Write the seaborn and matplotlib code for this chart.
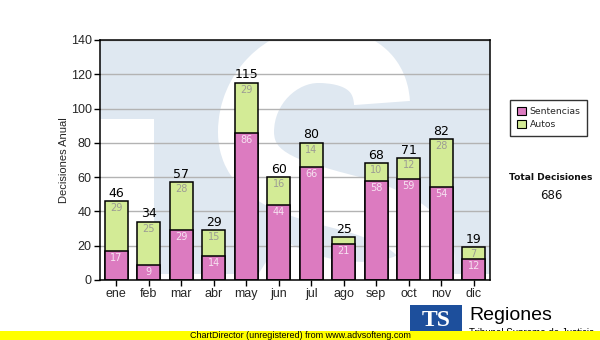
import numpy as np
import pandas as pd
import matplotlib
matplotlib.use("Agg")
import matplotlib.pyplot as plt
import seaborn as sns
from matplotlib.path import Path
from matplotlib.patches import PathPatch, Rectangle, Patch

# Monthly decisions
months = ["ene", "feb", "mar", "abr", "may", "jun", "jul", "ago", "sep", "oct", "nov", "dic"]
sentencias = [17, 9, 29, 14, 86, 44, 66, 21, 58, 59, 54, 12]
autos = [29, 25, 28, 15, 29, 16, 14, 4, 10, 12, 28, 7]
y_ticks = [0, 20, 40, 60, 80, 100, 120, 140]

totals = [s + a for s, a in zip(sentencias, autos)]
grand_total = sum(totals)

df = pd.DataFrame({"mes": months, "Sentencias": sentencias, "Autos": autos, "Total": totals})

sns.set_theme(style="white")
plt.rcParams["font.family"] = ["DejaVu Sans"]

W, H = 600, 340
fig = plt.figure(figsize=(6.0, 3.4), dpi=100)
fig.patch.set_facecolor("white")

# plot area in pixels: x 100..490, y 40..280
L, R, T, B = 100, 490, 40, 280
ax = fig.add_axes([L / W, 1 - B / H, (R - L) / W, (B - T) / H])
bg_blue = "#dfe8f1"
ax.set_facecolor(bg_blue)


def px(x, y):
    """pixel position (y downward) -> axes fraction"""
    return ((x - L) / (R - L), (B - y) / (B - T))


# watermark logo: white spaces around the "T" and a white "S" stroke
ax.add_patch(Rectangle(px(100, 280), (154 - 100) / (R - L), (280 - 119) / (B - T),
                       transform=ax.transAxes, facecolor="white", edgecolor="none", zorder=0.1))
ax.add_patch(Rectangle(px(100, 280), 1, 6 / (B - T),
                       transform=ax.transAxes, facecolor="white", edgecolor="none", zorder=0.1))
verts = [px(382, 103),
         px(380, 68), px(352, 55), px(318, 55),
         px(282, 55), px(246, 88), px(246, 132),
         px(246, 180), px(300, 190), px(352, 204),
         px(402, 218), px(430, 238), px(426, 262),
         px(420, 294), px(330, 304), px(266, 262)]
codes = [Path.MOVETO] + [Path.CURVE4] * 15
s_path = Path(verts, codes)
ax.add_patch(PathPatch(s_path, transform=ax.transAxes, facecolor="none", edgecolor="white",
                       lw=56 * 72 / 100, capstyle="butt", joinstyle="round", zorder=0.2))

ax.set_axisbelow(True)
ax.yaxis.grid(True, color="#b3b3b3", lw=1)
ax.xaxis.grid(False)

pink = "#dc7bc0"
green = "#d3eb96"
sns.barplot(data=df, x="mes", y="Total", color=green, saturation=1, width=0.7,
            edgecolor="black", linewidth=1.1, ax=ax, zorder=2)
sns.barplot(data=df, x="mes", y="Sentencias", color=pink, saturation=1, width=0.7,
            edgecolor="black", linewidth=1.1, ax=ax, zorder=3)

ax.set_xlim(-0.5, 11.5)
ax.set_ylim(0, 140)
ax.set_yticks(y_ticks)
ax.set_xlabel("")
ax.set_ylabel("Decisiones Anual", family="Liberation Sans", fontsize=8, labelpad=1)
ax.tick_params(axis="both", which="both", direction="out", length=4, width=1, color="black",
               labelsize=9, pad=2, bottom=True, left=True)
for lab in ax.get_xticklabels() + ax.get_yticklabels():
    lab.set_family("Liberation Sans")
for sp in ax.spines.values():
    sp.set_visible(True)
    sp.set_color("black")
    sp.set_linewidth(1.1)
    sp.set_zorder(5)

# value labels
for i in range(len(months)):
    s, a, t = sentencias[i], autos[i], totals[i]
    if s >= 6:
        ax.annotate(str(s), (i, s), xytext=(0, -5), textcoords="offset points",
                    ha="center", va="center", fontsize=7, color="#f6e2f1", zorder=6)
    if a >= 6:
        ax.annotate(str(a), (i, t), xytext=(0, -5), textcoords="offset points",
                    ha="center", va="center", fontsize=7, color="#9c9c94", zorder=6)
    ax.annotate(str(t), (i, t), xytext=(0, 1), textcoords="offset points",
                ha="center", va="bottom", fontsize=9, color="black", zorder=6)

# legend
handles = [Patch(facecolor=pink, edgecolor="black", lw=0.8, label="Sentencias"),
           Patch(facecolor=green, edgecolor="black", lw=0.8, label="Autos")]
leg = fig.legend(handles=handles, loc="upper left", bbox_to_anchor=(510 / W, 1 - 100 / H),
                 frameon=True, fancybox=False, fontsize=6.7, handlelength=1.0, handleheight=1.0,
                 handletextpad=0.4, borderpad=0.7, labelspacing=0.45, borderaxespad=0)
leg.get_frame().set_edgecolor("black")
leg.get_frame().set_linewidth(1)

fig.text(551 / W, 1 - 177 / H, "Total Decisiones", ha="center", va="center",
         fontsize=6.6, fontweight="bold", color="#111111")
fig.text(551 / W, 1 - 196 / H, f"{grand_total}", ha="center", va="center",
         fontsize=8.5, color="#111111")

# footer logo
fig.patches.append(Rectangle((410 / W, 1 - 336 / H), 52 / W, 31 / H, transform=fig.transFigure,
                             facecolor="#1d4f9c", edgecolor="none", zorder=1))
fig.text(436 / W, 1 - 320 / H, "TS", ha="center", va="center", fontsize=17, fontweight="bold",
         family="Liberation Serif", color="white", zorder=2)
fig.text(469 / W, 1 - 316 / H, "Regiones", ha="left", va="center", fontsize=14,
         family="Liberation Sans", color="black", zorder=2)
fig.text(469 / W, 1 - 333.5 / H, "Tribunal Supremo de Justicia", ha="left", va="center",
         fontsize=7, family="Liberation Sans", color="black", zorder=2)

# footer banner
fig.patches.append(Rectangle((0, 0), 1, 9 / H, transform=fig.transFigure,
                             facecolor="#ffff00", edgecolor="none", zorder=3))
fig.text(300 / W, 4.5 / H, "ChartDirector (unregistered) from www.advsofteng.com", ha="center",
         va="center", fontsize=6.5, family="Liberation Sans", color="black", zorder=4)

fig.savefig("out.png", dpi=100)
